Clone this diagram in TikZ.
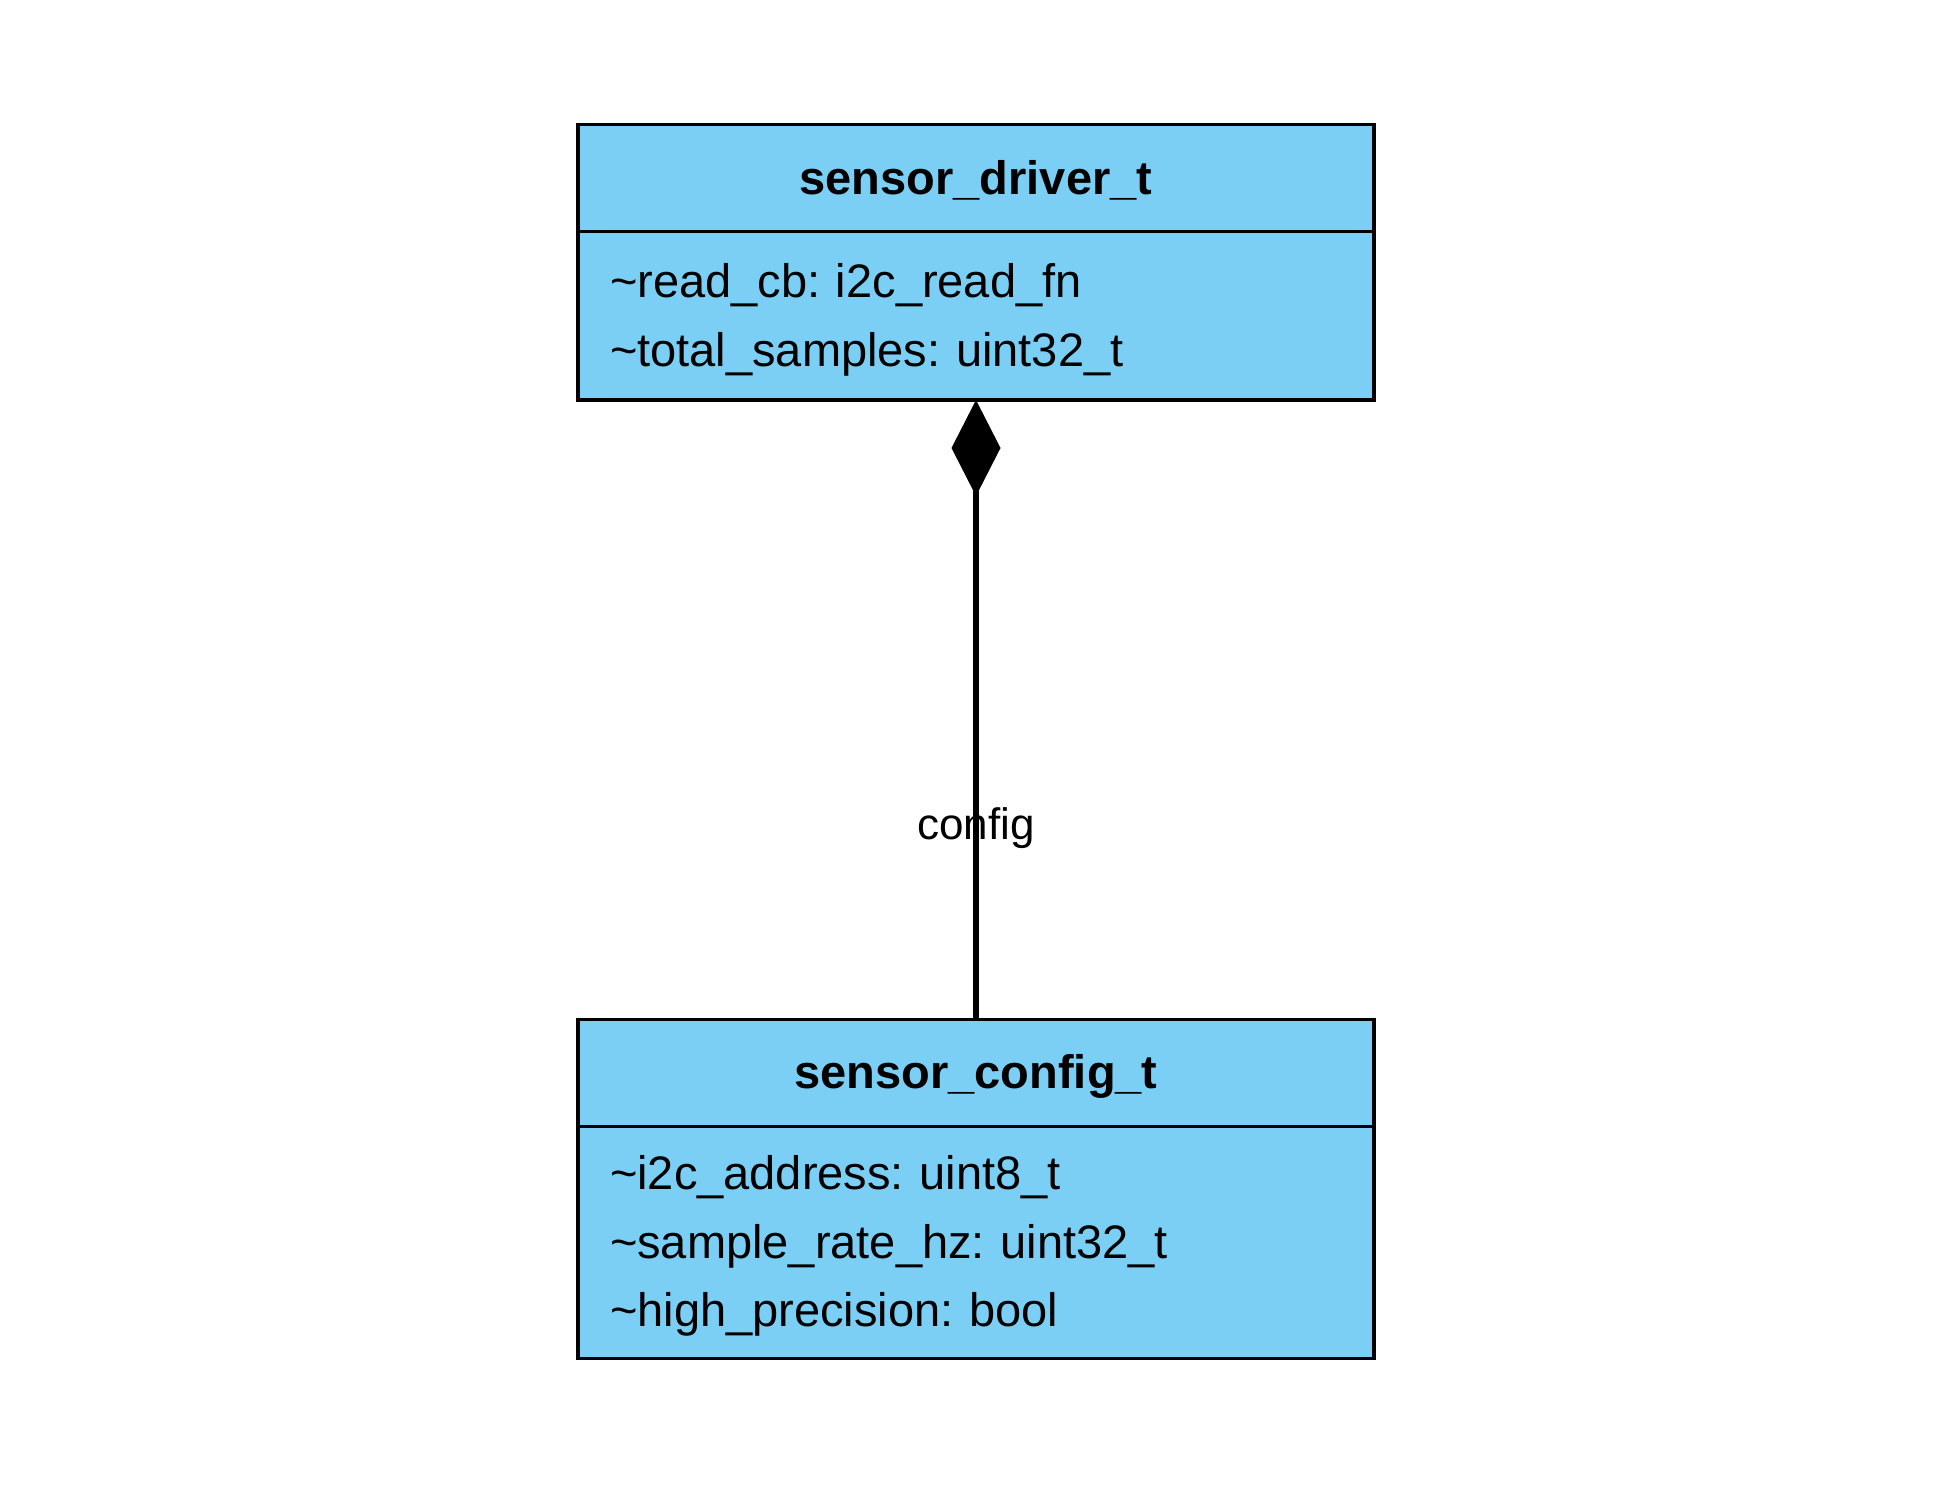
\documentclass[tikz,border=0pt]{standalone}
\usepackage{fontspec}
\setmainfont{Liberation Sans}
\frenchspacing
\usetikzlibrary{positioning,arrows.meta}
\definecolor{classblue}{HTML}{7BCFF4}

\begin{document}
\begin{tikzpicture}[
    x=1pt, y=1pt,
    box/.style={draw, line width=1.6pt, fill=classblue, outer sep=0pt, minimum width=398pt},
    head/.style={box, minimum height=53.6pt, text height=21pt, text depth=5pt,
                 font=\fontsize{23.5}{28}\selectfont\bfseries},                            % class name row
    body/.style={box, align=left, text width=366pt, inner xsep=16pt, inner ysep=0pt,
                 text height=21pt, font=\fontsize{23.5}{34.25}\selectfont},               % attribute rows
    comp/.style={line width=2.6pt, -{Diamond[length=48pt,width=24.5pt]}},                  % composition
    lbl/.style={font=\fontsize{22}{26}\selectfont, inner sep=0pt}
  ]

    \useasboundingbox (0,0) rectangle (977,-742);

% --- sensor_driver_t ---
    \node[head] (drvhead) at (488,-89.1) {sensor\_driver\_t};
    \node[body, minimum height=84.1pt, below=0pt of drvhead] (drvbody)
      {\textasciitilde read\_cb: i2c\_read\_fn\\
       \textasciitilde total\_samples: uint32\_t};

% --- sensor_config_t ---
    \node[head, below=309.6pt of drvbody] (cfghead) {sensor\_config\_t};
    \node[body, minimum height=115.9pt, below=0pt of cfghead] (cfgbody)
      {\textasciitilde i2c\_address: uint8\_t\\
       \textasciitilde sample\_rate\_hz: uint32\_t\\
       \textasciitilde high\_precision: bool};

% --- composition ---
    \draw[comp] (cfghead.north) -- node[lbl, pos=0.308] (cfglbl) {config} (drvbody.south);

\end{tikzpicture}
\end{document}
